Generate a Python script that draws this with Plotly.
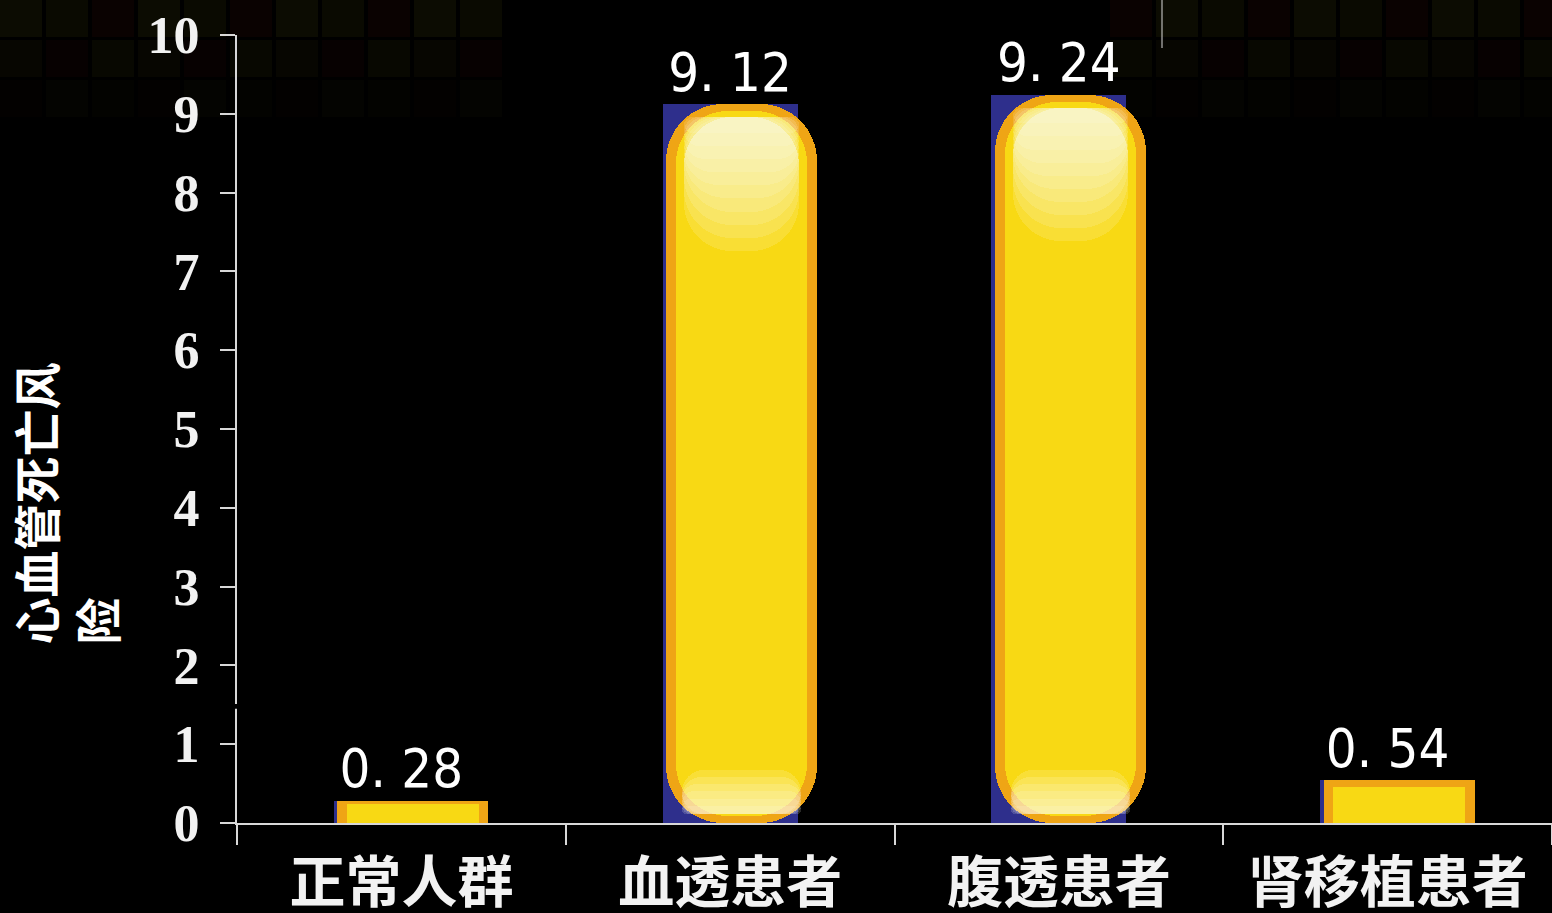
import plotly.graph_objects as go

categories = ["正常人群", "血透患者", "腹透患者", "肾移植患者"]
values = [0.28, 9.12, 9.24, 0.54]
y_ticks = list(range(0, 11))
y_title = "心血管死亡风<br>险"

labels = [f"{v:.2f}".replace(".", ". ") for v in values]
tall = [v if v > 2 else None for v in values]
short = [v if v <= 2 else None for v in values]


def each(vals, f):
    return [None if v is None else f(v) for v in vals]


fig = go.Figure()
common = dict(hoverinfo="skip", showlegend=False)

# dark-blue base bar (true value)
fig.add_trace(go.Bar(x=categories, y=values, width=0.41,
                     marker=dict(color="#2E2F8C", line=dict(width=0)), **common))

RIM, FILL = "#EFA515", "#F8D914"
# ---- yellow capsules for tall bars (floating bars are rounded at both ends)
fig.add_trace(go.Bar(
    x=categories, y=tall, base=each(tall, lambda v: 0.0),
    width=0.46, offset=-0.195,
    marker=dict(color=RIM, line=dict(width=0), cornerradius="38%"), **common))
fig.add_trace(go.Bar(
    x=categories, y=each(tall, lambda v: v - 0.18), base=each(tall, lambda v: 0.09),
    width=0.40, offset=-0.165,
    marker=dict(color=FILL, line=dict(width=0), cornerradius="40%"), **common))

# ---- flat yellow blocks for short bars
fig.add_trace(go.Bar(x=categories, y=short, width=0.46, offset=-0.195,
                     marker=dict(color=RIM, line=dict(width=0)), **common))
fig.add_trace(go.Bar(x=categories, y=each(short, lambda v: v * 0.85), width=0.40, offset=-0.165,
                     marker=dict(color=FILL, line=dict(width=0)), **common))

# ---- glossy highlight near the top of tall capsules
n_layers = 10
for k in range(n_layers):
    depth = 0.2 + 1.5 * k / (n_layers - 1)
    fig.add_trace(go.Bar(
        x=categories, y=each(tall, lambda v: depth),
        base=each(tall, lambda v: v - 0.16 - depth),
        width=0.35, offset=-0.14,
        marker=dict(color="rgba(255,254,245,0.14)", line=dict(width=0), cornerradius="42%"),
        **common))

# ---- soft glow near the bottom of tall capsules
for k in range(6):
    depth = 0.1 + 0.45 * k / 5
    fig.add_trace(go.Bar(
        x=categories, y=each(tall, lambda v: depth),
        base=each(tall, lambda v: 0.12),
        width=0.36, offset=-0.145,
        marker=dict(color="rgba(255,254,245,0.16)", line=dict(width=0), cornerradius="40%"),
        **common))

# value labels
fig.add_trace(go.Scatter(
    x=categories, y=values, mode="text", text=labels, textposition="top center",
    textfont=dict(family="Liberation Sans Narrow, DejaVu Sans Condensed, sans-serif",
                  size=54, color="#FFFFFF"),
    cliponaxis=False, **common))

fig.add_annotation(
    text=y_title, xref="paper", yref="paper",
    x=-0.131, y=0.405, xanchor="center", yanchor="middle",
    textangle=-90, align="left", showarrow=False,
    font=dict(family="Noto Sans CJK SC", size=47, color="#FFFFFF", weight="bold"),
)

# faint decorative tiles in the top corners of the background
shapes = []
row_op = [0.17, 0.11, 0.05]
tile_cols = ["rgba(70,70,10,{})", "rgba(60,58,8,{})", "rgba(60,12,8,{})"]
xs_left = list(range(0, 500, 46))
xs_right = list(range(1110, 1552, 46))
for r, op in enumerate(row_op):
    for c, x0 in enumerate(xs_left + xs_right):
        col = tile_cols[(c + r) % 3].format(op)
        shapes.append(dict(type="rect", xref="paper", yref="paper", layer="below",
                           x0=(x0 - 237) / 1315, x1=(x0 + 42 - 237) / 1315,
                           y0=(823 - (r * 40 + 37)) / 788, y1=(823 - r * 40) / 788 + (0.05 if r == 0 else 0),
                           fillcolor=col, line=dict(width=0)))
shapes.append(dict(type="line", xref="paper", yref="paper", layer="below",
                   x0=(1162 - 237) / 1315, x1=(1162 - 237) / 1315,
                   y0=(823 - 48) / 788, y1=823 / 788 + 0.05,
                   line=dict(color="rgba(200,200,200,0.55)", width=2)))
# small break in the y-axis line
shapes.append(dict(type="rect", xref="paper", yref="y", layer="above",
                   x0=-0.004, x1=0.004, y0=1.45, y1=1.51,
                   fillcolor="#000000", line=dict(width=0)))

fig.update_layout(
    width=1552, height=913,
    margin=dict(l=237, r=0, t=35, b=90, autoexpand=False),
    paper_bgcolor="#000000", plot_bgcolor="rgba(0,0,0,0)",
    barmode="overlay", bargap=0.0, showlegend=False, shapes=shapes,
)
fig.update_xaxes(
    type="category", range=[-0.5, 3.5], automargin=False,
    showline=True, linecolor="#D8D8D8", linewidth=2,
    ticks="outside", tickson="boundaries", ticklen=20, tickwidth=2, tickcolor="#D8D8D8",
    showgrid=False, zeroline=False,
    tickfont=dict(family="Noto Sans CJK SC", size=56, color="#F2F2F2", weight="bold"),
    ticklabelstandoff=10,
)
fig.update_yaxes(
    range=[0, 10], tickvals=y_ticks, automargin=False,
    showline=True, linecolor="#D8D8D8", linewidth=2,
    ticks="outside", ticklen=15, tickwidth=2, tickcolor="#D8D8D8",
    showgrid=False, zeroline=False,
    tickfont=dict(family="Liberation Serif", size=52, color="#F2F2F2", weight="bold"),
    ticklabelstandoff=10,
)

fig.write_html(
    "out.html",
    config={"displayModeBar": False},
    post_script="document.body.style.margin='0';document.body.style.background='#000';"
                "document.body.style.overflow='hidden';",
)
